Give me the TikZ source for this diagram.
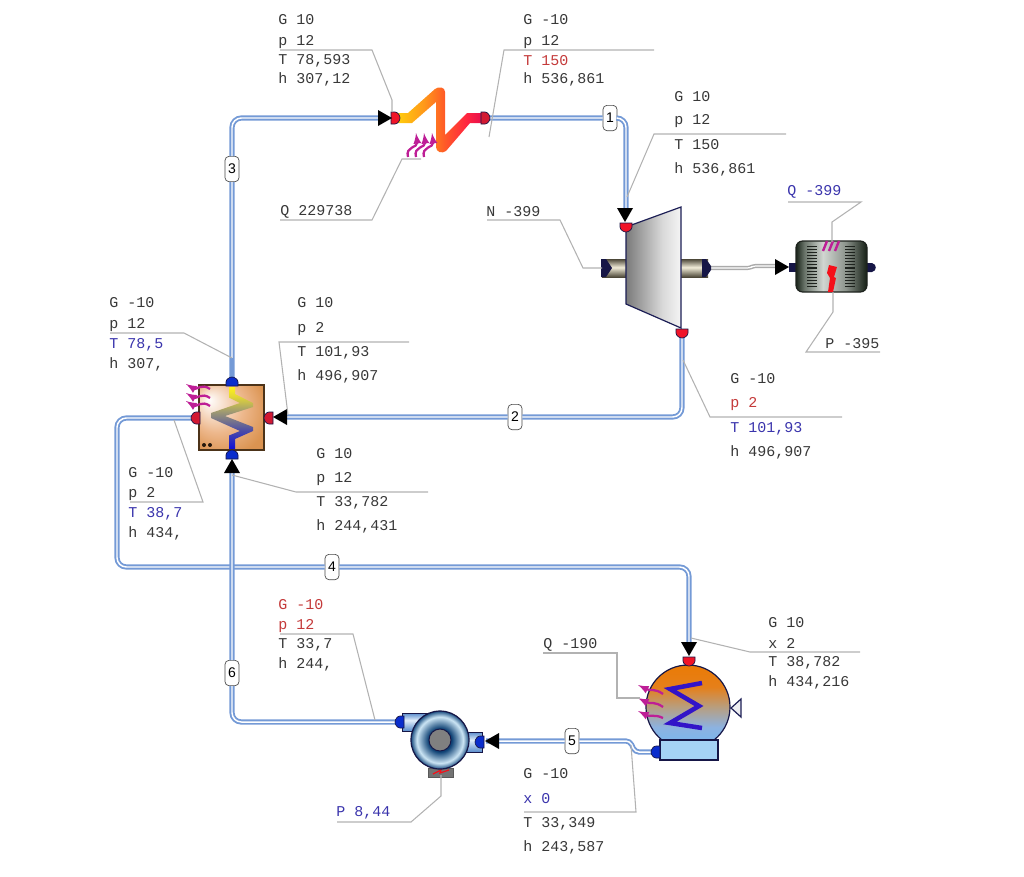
\documentclass[tikz,border=0pt]{standalone}
\usepackage{fontspec}
\setmonofont{Liberation Mono}
\setsansfont{Liberation Sans}

\definecolor{pipeblue}{RGB}{116,154,214}
\definecolor{portred}{RGB}{240,20,40}
\definecolor{portcrimson}{RGB}{210,25,50}
\definecolor{portblue}{RGB}{10,45,205}
\definecolor{navyline}{RGB}{28,30,85}
\definecolor{navyfill}{RGB}{22,22,70}
\definecolor{heatpurple}{RGB}{190,30,150}
\definecolor{ticksdark}{RGB}{30,35,30}
\definecolor{sparkred}{RGB}{245,15,25}
\definecolor{sigmablue}{RGB}{50,20,200}
\definecolor{drumlight}{RGB}{165,210,245}
\definecolor{texthot}{RGB}{196,58,58}
\definecolor{textcold}{RGB}{58,52,172}

\pgfdeclarehorizontalshading{heatershade}{100bp}{rgb(0bp)=(1,.80,.05);rgb(25bp)=(1,.80,.05);rgb(40bp)=(1,.60,.10);rgb(52bp)=(1,.36,.15);rgb(65bp)=(1,.15,.25);rgb(75bp)=(.90,.05,.30);rgb(100bp)=(.90,.05,.30)}
\pgfdeclareverticalshading{coilshade}{100bp}{rgb(0bp)=(.05,.05,.85);rgb(25bp)=(.05,.05,.85);rgb(40bp)=(.30,.30,.65);rgb(55bp)=(.62,.60,.45);rgb(68bp)=(.90,.85,.20);rgb(75bp)=(1,.95,.10);rgb(100bp)=(1,.95,.10)}
\pgfdeclarehorizontalshading{turbineshade}{100bp}{rgb(0bp)=(.48,.48,.48);rgb(25bp)=(.48,.48,.48);rgb(58bp)=(.85,.85,.85);rgb(75bp)=(.96,.96,.96);rgb(100bp)=(.96,.96,.96)}
\pgfdeclareverticalshading{shaftshade}{100bp}{rgb(0bp)=(.30,.28,.22);rgb(25bp)=(.30,.28,.22);rgb(52bp)=(.95,.93,.85);rgb(75bp)=(.30,.28,.22);rgb(100bp)=(.30,.28,.22)}
\pgfdeclarehorizontalshading{genshade}{100bp}{rgb(0bp)=(.10,.14,.10);rgb(25bp)=(.10,.14,.10);rgb(31bp)=(.42,.46,.42);rgb(44bp)=(.82,.84,.82);rgb(60bp)=(.55,.58,.55);rgb(75bp)=(.08,.12,.08);rgb(100bp)=(.08,.12,.08)}
\pgfdeclareverticalshading{drumshade}{100bp}{rgb(0bp)=(.45,.72,.95);rgb(25bp)=(.45,.72,.95);rgb(38bp)=(.55,.70,.88);rgb(50bp)=(.72,.62,.50);rgb(62bp)=(.90,.50,.10);rgb(75bp)=(.92,.48,.02);rgb(100bp)=(.92,.48,.02)}
\pgfdeclareverticalshading{stubshade}{100bp}{rgb(0bp)=(.35,.55,.80);rgb(25bp)=(.35,.55,.80);rgb(55bp)=(.88,.93,.98);rgb(75bp)=(.35,.55,.80);rgb(100bp)=(.35,.55,.80)}
\pgfdeclareradialshading{hexglow}{\pgfpoint{-18bp}{14bp}}{rgb(0bp)=(1,1,1);rgb(20bp)=(.93,.72,.55);rgb(34bp)=(.86,.58,.32);rgb(50bp)=(.84,.55,.30)}
\pgfdeclareradialshading{pumpdisc}{\pgfpoint{0bp}{0bp}}{rgb(0bp)=(.05,.20,.40);rgb(10bp)=(.05,.25,.45);rgb(20bp)=(.80,.90,.96);rgb(25bp)=(.10,.30,.50);rgb(50bp)=(.10,.30,.50)}

\tikzset{
  pipe/.style={draw=pipeblue,line width=1.4pt,double=white,double distance=1.1pt,rounded corners=7pt},
  jog/.style={draw=pipeblue,line width=1.4pt,double=white,double distance=1.1pt,rounded corners=3pt},
  shaftline/.style={draw=black!33,line width=1.1pt,double=white,double distance=0.9pt,rounded corners=2pt},
  leader/.style={draw=black!30,line width=0.8pt},
  readout/.style={anchor=west,inner sep=0pt,font=\ttfamily\fontsize{11.25}{13}\selectfont,text=black!78},
  hotvalue/.style={readout,text=texthot},
  coldvalue/.style={readout,text=textcold},
  pipelabel/.style={draw=black!72,fill=white,rounded corners=3pt,inner sep=0pt,minimum width=10.5pt,minimum height=19pt,line width=0.5pt,font=\sffamily\fontsize{10.5}{12}\selectfont},
  heatwave/.style={draw=heatpurple,line width=1.7pt,-latex},
  outline/.style={draw=navyline,line width=0.9pt},
  pics/portcap/.style={code={
    \filldraw[fill=#1,draw=navyfill,line width=0.5pt] (-4,-6) -- (0,-6) .. controls (3,-6) and (5,-2) .. (5,0) .. controls (5,2) and (3,6) .. (0,6) -- (-4,6) -- cycle ;
  }},
  pics/flowtip/.style={code={
    \fill[black] (0,0) -- (-14,-8) -- (-14,8) -- cycle ;
  }}
}

\begin{document}
\begin{tikzpicture}[x=0.75pt,y=0.75pt,yscale=-1,xscale=1]
\useasboundingbox (0,0) rectangle (1024,876);

%Pipe ends
\coordinate (heatin) at (378,118);
\coordinate (heatout) at (489,118);
\coordinate (turbin) at (626,209);
\coordinate (turbout) at (682,337);
\coordinate (hxtop) at (232,380);
\coordinate (hxright) at (286,417);
\coordinate (hxleft) at (193,418);
\coordinate (hxbottom) at (232,472);
\coordinate (bendleft) at (117,418);
\coordinate (condin) at (689,643);
\coordinate (condout) at (653,752);
\coordinate (jogin) at (635,752);
\coordinate (jogout) at (630,741);
\coordinate (pumpin) at (486,741);
\coordinate (pumpout) at (397,722);
\coordinate (shaftout) at (711,268);
\coordinate (shaftbendA) at (750,268);
\coordinate (shaftbendB) at (753,266);
\coordinate (shaftin) at (776,266);
\coordinate (hxneck) at (232,358);

%Pipe labels
\node[pipelabel] (pipeone) at (610,118) {1};
\node[pipelabel] (pipetwo) at (515,417) {2};
\node[pipelabel] (pipethree) at (232,169) {3};
\node[pipelabel] (pipefour) at (332,567) {4};
\node[pipelabel] (pipefive) at (572,741) {5};
\node[pipelabel] (pipesix) at (232,673) {6};

%Pipes
\draw[pipe] (hxtop) -- (pipethree) |- (heatin) ;
\draw[pipe] (heatout) -- (pipeone) -| (turbin) ;
\draw[pipe] (turbout) |- (pipetwo) -- (hxright) ;
\draw[pipe] (hxleft) -- (bendleft) |- (pipefour) -| (condin) ;
\draw[jog] (condout) -- (jogin) -- (jogout) -- (pipefive) -- (pumpin) ;
\draw[pipe] (pumpout) -| (pipesix) -- (hxbottom) ;
\draw[shaftline] (shaftout) -- (shaftbendA) -- (shaftbendB) -- (shaftin) ;
\draw[pipeblue,line width=3.4pt] (hxneck) -- (hxtop) ;

%Heater
\shade[shading=heatershade] (398,113) -- (408,113) -- (435,89) .. controls (439,86) and (445,87) .. (445,92) -- (445,135) -- (467,113) -- (483,113) -- (483,123) -- (470,123) -- (446,151) .. controls (442,154) and (436,152) .. (436,147) -- (436,102) -- (412,123) -- (398,123) -- cycle ;
\draw[heatwave] (408,157) .. controls (405,146) and (418,148) .. (416,133) ;
\draw[heatwave] (416,157) .. controls (413,146) and (426,148) .. (424,133) ;
\draw[heatwave] (424,157) .. controls (421,146) and (434,148) .. (432,133) ;
\pic at (395,118) {portcap=portred};
\pic at (485,118) {portcap=portcrimson};
\pic at (392,118) {flowtip};

%Turbine
\shade[shading=shaftshade] (602,259) rectangle (626,277);
\shade[shading=shaftshade] (681,259) rectangle (708,277);
\fill[navyfill] (601,259) -- (606,259) -- (612,268) -- (606,277) -- (601,277) -- cycle ;
\fill[navyfill] (702,259) -- (706,259) -- (711,266) -- (711,270) -- (706,277) -- (702,277) -- cycle ;
\shadedraw[shading=turbineshade,outline] (626,227) -- (681,207) -- (681,328) -- (626,304) -- cycle ;
\pic[rotate=-90] at (626,227) {portcap=portred};
\pic[rotate=-90] at (682,333) {portcap=portred};
\pic[rotate=-90] at (625,222) {flowtip};

%Generator
\fill[navyfill] (789,263) rectangle (797,272);
\fill[navyfill] (866,263) -- (872,263) .. controls (877,264) and (877,271) .. (872,272) -- (866,272) -- cycle ;
\pic at (789,267) {flowtip};
\shadedraw[shading=genshade,draw=ticksdark,line width=0.9pt,rounded corners=5pt] (796,241) rectangle (867,292);
\draw[ticksdark,line width=7pt,dash pattern=on 0.8pt off 1.5pt] (812,246) -- (812,287) ;
\draw[ticksdark,line width=7pt,dash pattern=on 0.8pt off 1.5pt] (850,246) -- (850,287) ;
\draw[heatpurple,line width=1.8pt] (823,251) -- (827,241) ;
\draw[heatpurple,line width=1.8pt] (829,251) -- (833,241) ;
\draw[heatpurple,line width=1.8pt] (835,251) -- (839,241) ;
\fill[sparkred] (829,265) -- (837,267) -- (834,277) -- (836,278) -- (833,292) -- (828,292) -- (830,278) -- (827,273) -- cycle ;

%Heat exchanger
\shadedraw[shading=hexglow,draw=black!60!brown,line width=0.9pt] (199,385) rectangle (264,450);
\shade[shading=coilshade] (229,387) -- (235,387) -- (235,394) -- (253,403) -- (253,407) -- (225,416) -- (253,427) -- (253,431) -- (235,439) -- (235,449) -- (229,449) -- (229,435.5) -- (240,431) -- (211,418) -- (211,413) -- (240,403) -- (229,397.5) -- cycle ;
\fill[black!80!brown] (204,445) circle (2);
\fill[black!80!brown] (210,445) circle (2);
\draw[heatwave] (210,389) .. controls (202,383) and (196,390) .. (186,384) ;
\draw[heatwave] (210,398) .. controls (202,392) and (196,399) .. (186,393) ;
\draw[heatwave] (210,406) .. controls (202,400) and (196,407) .. (186,401) ;
\pic[rotate=90] at (232,382) {portcap=portblue};
\pic[rotate=90] at (232,455) {portcap=portblue};
\pic[rotate=180] at (196,418) {portcap=portcrimson};
\pic[rotate=180] at (269,418) {portcap=portcrimson};
\pic[rotate=180] at (273,417) {flowtip};
\pic[rotate=90] at (232,459) {flowtip};

%Condenser
\shadedraw[shading=drumshade,draw=navyfill,line width=0.9pt] (688,707) circle (42);
\filldraw[fill=drumlight,draw=navyfill,line width=0.9pt] (660,740) rectangle (718,760);
\filldraw[fill=white!92!navyline,draw=navyline,line width=0.9pt] (731,708) -- (741,699) -- (741,717) -- cycle ;
\draw[sigmablue,line width=3.4pt] (702,683) -- (670,689) -- (699,706) -- (670,723) -- (702,728) ;
\draw[heatwave] (663,694) .. controls (655,688) and (650,691) .. (638,685) ;
\draw[heatwave] (663,707) .. controls (655,701) and (650,704) .. (638,698) ;
\draw[heatwave] (663,718) .. controls (655,714) and (650,717) .. (638,711) ;
\pic[rotate=-90] at (689,661) {portcap=portred};
\pic[rotate=180] at (656,752) {portcap=portblue};
\pic[rotate=-90] at (689,656) {flowtip};

%Pump
\shadedraw[shading=stubshade,draw=navyfill,line width=0.6pt] (402,713) rectangle (432,731);
\shadedraw[shading=stubshade,draw=navyfill,line width=0.6pt] (462,732) rectangle (482,752);
\filldraw[fill=black!55,draw=black!65] (428,768) rectangle (453,777);
\draw[sparkred,line width=0.9pt] (433,774) -- (441,770) -- (440,773) -- (449,770) ;
\shadedraw[shading=pumpdisc,draw=navyfill,line width=0.9pt] (440,740) circle (29);
\filldraw[fill=black!50,draw=navyfill,line width=0.7pt] (440,740) circle (11);
\pic[rotate=180] at (400,722) {portcap=portblue};
\pic[rotate=180] at (480,742) {portcap=portblue};
\pic[rotate=180] at (485,741) {flowtip};

%Heater inlet readout
\node[readout] (heatinG) at (278,20) {G 10};
\node[readout] (heatinp) at (278,42) {p 12};
\node[readout] (heatinT) at (278,61) {T 78,593};
\node[readout] (heatinh) at (278,79) {h 307,12};
\coordinate (leadA) at (280,50); \coordinate (tapA) at (392,112);
\draw[leader] (leadA) -- (372,50) -- (392,100) -- (tapA) ;

%Heater outlet readout
\node[readout] (heatoutG) at (523,20) {G -10};
\node[readout] (heatoutp) at (523,42) {p 12};
\node[hotvalue] (heatoutT) at (523,61) {T 150};
\node[readout] (heatouth) at (523,79) {h 536,861};
\coordinate (leadB) at (654,50); \coordinate (tapB) at (489,137);
\draw[leader] (leadB) -- (504,50) -- (tapB) ;

%Turbine inlet readout
\node[readout] (turbinG) at (674,97) {G 10};
\node[readout] (turbinp) at (674,121) {p 12};
\node[readout] (turbinT) at (674,145) {T 150};
\node[readout] (turbinh) at (674,169) {h 536,861};
\coordinate (leadC) at (786,134); \coordinate (tapC) at (627,197);
\draw[leader] (leadC) -- (654,134) -- (tapC) ;

%Heater duty
\node[readout] (heatQ) at (280,212) {Q 229738};
\coordinate (leadD) at (280,220); \coordinate (tapD) at (421,159);
\draw[leader] (leadD) -- (372,220) -- (402,159) -- (tapD) ;

%Turbine power
\node[readout] (turbN) at (486,212) {N -399};
\coordinate (leadE) at (487,220); \coordinate (tapE) at (602,268);
\draw[leader] (leadE) -- (560,220) -- (583,268) -- (tapE) ;

%Generator readouts
\node[coldvalue] (genQ) at (787,192) {Q -399};
\coordinate (leadF) at (788,202); \coordinate (tapF) at (832,242);
\draw[leader] (leadF) -- (861,202) -- (832,222) -- (tapF) ;
\node[readout] (genP) at (825,344) {P -395};
\coordinate (leadG) at (880,352); \coordinate (tapG) at (833,292);
\draw[leader] (leadG) -- (806,352) -- (833,312) -- (tapG) ;

%Turbine outlet readout
\node[readout] (turboutG) at (730,379) {G -10};
\node[hotvalue] (turboutp) at (730,404) {p 2};
\node[coldvalue] (turboutT) at (730,429) {T 101,93};
\node[readout] (turbouth) at (730,452) {h 496,907};
\coordinate (leadH) at (842,417); \coordinate (tapH) at (683,360);
\draw[leader] (leadH) -- (710,417) -- (tapH) ;

%Exchanger hot side in
\node[readout] (hxinG) at (297,303) {G 10};
\node[readout] (hxinp) at (297,329) {p 2};
\node[readout] (hxinT) at (297,353) {T 101,93};
\node[readout] (hxinh) at (297,376) {h 496,907};
\coordinate (leadI) at (409,342); \coordinate (tapI) at (288,415);
\draw[leader] (leadI) -- (279,342) -- (tapI) ;

%Exchanger cold side out
\node[readout] (hxoutG) at (109,303) {G -10};
\node[readout] (hxoutp) at (109,325) {p 12};
\node[coldvalue] (hxoutT) at (109,345) {T 78,5};
\node[readout] (hxouth) at (109,364) {h 307,};
\coordinate (leadJ) at (110,333); \coordinate (tapJ) at (232,358);
\draw[leader] (leadJ) -- (184,333) -- (tapJ) ;

%Exchanger cold side in
\node[readout] (hxcoldG) at (316,454) {G 10};
\node[readout] (hxcoldp) at (316,479) {p 12};
\node[readout] (hxcoldT) at (316,503) {T 33,782};
\node[readout] (hxcoldh) at (316,526) {h 244,431};
\coordinate (leadK) at (428,492); \coordinate (tapK) at (232,475);
\draw[leader] (leadK) -- (296,492) -- (tapK) ;

%Exchanger hot side out
\node[readout] (hxhotG) at (128,473) {G -10};
\node[readout] (hxhotp) at (128,494) {p 2};
\node[coldvalue] (hxhotT) at (128,514) {T 38,7};
\node[readout] (hxhoth) at (128,533) {h 434,};
\coordinate (leadL) at (130,502); \coordinate (tapL) at (174,420);
\draw[leader] (leadL) -- (203,502) -- (tapL) ;

%Pump outlet readout
\node[hotvalue] (pumpoutG) at (278,605) {G -10};
\node[hotvalue] (pumpoutp) at (278,626) {p 12};
\node[readout] (pumpoutT) at (278,645) {T 33,7};
\node[readout] (pumpouth) at (278,664) {h 244,};
\coordinate (leadM) at (280,634); \coordinate (tapM) at (375,720);
\draw[leader] (leadM) -- (353,634) -- (tapM) ;

%Condenser inlet readout
\node[readout] (condinG) at (768,623) {G 10};
\node[readout] (condinx) at (768,643) {x 2};
\node[readout] (condinT) at (768,663) {T 38,782};
\node[readout] (condinh) at (768,682) {h 434,216};
\coordinate (leadN) at (860,652); \coordinate (tapN) at (691,638);
\draw[leader] (leadN) -- (750,652) -- (tapN) ;

%Condenser duty
\node[readout] (condQ) at (543,645) {Q -190};
\coordinate (leadO) at (543,653); \coordinate (tapO) at (640,698);
\draw[leader] (leadO) -- (617,653) -- (617,698) -- (tapO) ;

%Pump power
\node[coldvalue] (pumpP) at (336,813) {P 8,44};
\coordinate (leadP) at (337,822); \coordinate (tapP) at (441,775);
\draw[leader] (leadP) -- (411,822) -- (441,796) -- (tapP) ;

%Condenser outlet readout
\node[readout] (condoutG) at (523,774) {G -10};
\node[coldvalue] (condoutx) at (523,799) {x 0};
\node[readout] (condoutT) at (523,824) {T 33,349};
\node[readout] (condouth) at (523,847) {h 243,587};
\coordinate (leadQ) at (524,812); \coordinate (tapQ) at (631,745);
\draw[leader] (leadQ) -- (636,812) -- (tapQ) ;

\end{tikzpicture}
\end{document}
